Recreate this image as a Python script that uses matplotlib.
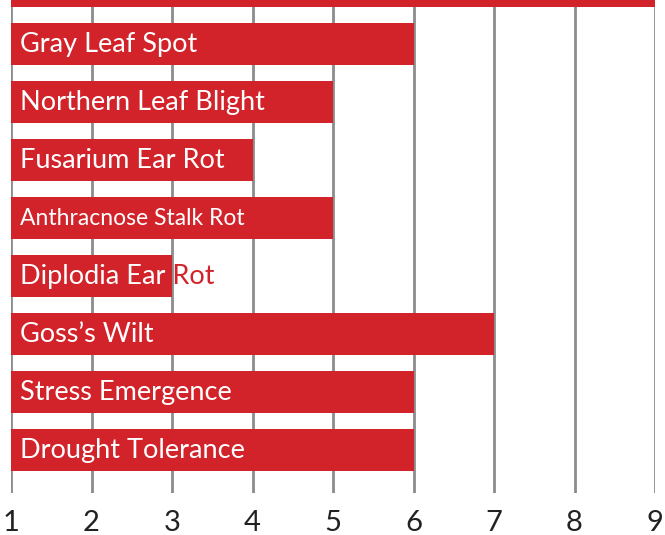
import matplotlib
matplotlib.use("Agg")
import matplotlib.pyplot as plt
from matplotlib.transforms import Bbox, TransformedBbox

# ratings, listed top to bottom (top bar is cut off in the original)
traits = ["", "Gray Leaf Spot", "Northern Leaf Blight", "Fusarium Ear Rot",
          "Anthracnose Stalk Rot", "Diplodia Ear Rot", "Goss\u2019s Wilt",
          "Stress Emergence", "Drought Tolerance"]
scores = [9, 6, 5, 4, 5, 3, 7, 6, 6]
label_sizes = [19.5, 19.5, 19.5, 19.5, 16.5, 19.5, 19.5, 19.5, 19.5]
ticks = [1, 2, 3, 4, 5, 6, 7, 8, 9]

RED = "#d2232a"
GRID = "#8c8c8c"
BAR_H = 0.724

plt.rcParams['font.family'] = ['Lato', 'DejaVu Sans']

fig = plt.figure(figsize=(6.65, 5.35), dpi=100)
ax = fig.add_axes([11 / 665, 1 - 493 / 535, 644 / 665, 493 / 535])

n = len(traits)
ypos = [n - 1 - i for i in range(n)]

ax.set_xlim(1, 9)
ax.set_ylim(-0.741, 7.76)

for x in ticks:
    ax.axvline(x, color=GRID, lw=2, zorder=1)

ax.barh(ypos, [s - 1 for s in scores], left=1, height=BAR_H,
        color=RED, zorder=2)

for name, score, size, y in zip(traits, scores, label_sizes, ypos):
    if not name:
        continue
    # red copy shows where text runs past the bar, white copy clipped to bar
    ax.text(1.11, y, name, color=RED, fontsize=size, va="center",
            ha="left", zorder=3)
    t = ax.text(1.11, y, name, color="white", fontsize=size, va="center",
                ha="left", zorder=4)
    box = Bbox([[1, y - BAR_H / 2], [score, y + BAR_H / 2]])
    t.set_clip_path(None)
    t.set_clip_box(TransformedBbox(box, ax.transData))
    t.set_clip_on(True)

ax.set_xticks(ticks)
ax.set_xticklabels([str(t) for t in ticks], fontsize=21, color="#222222")
ax.tick_params(axis="x", length=0, pad=12)
ax.set_yticks([])
for s in ax.spines.values():
    s.set_visible(False)

fig.savefig("out.png", dpi=100)
